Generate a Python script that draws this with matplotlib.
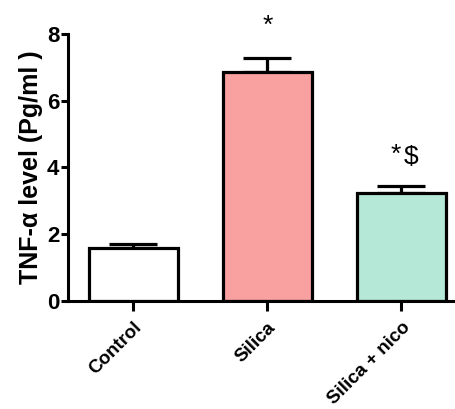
import matplotlib.pyplot as plt
import numpy as np

plt.rcParams['font.family'] = ['Liberation Sans', 'DejaVu Sans']

# data
groups = ['Control', 'Silica', 'Silica + nico']
means = [1.6, 6.87, 3.24]
sem = [0.1, 0.4, 0.22]
colors = ['#ffffff', '#f9a0a0', '#b5e8d6']

fig = plt.figure(figsize=(4.55, 4.09), dpi=100)
ax = fig.add_axes([0.149, 0.264, 0.851, 0.653])

x = np.arange(len(groups))
ax.bar(x, means, width=0.66, color=colors, edgecolor='black', linewidth=2.3, zorder=2)
ax.errorbar(x, means, yerr=[np.zeros(len(sem)), sem], fmt='none', ecolor='black',
            elinewidth=2.3, capsize=17, capthick=2.3, zorder=1)

# significance marks
ax.text(x[1], means[1] + sem[1] + 0.6, '*', ha='center', va='bottom', fontsize=19, clip_on=False)
ax.text(x[2] + 0.0, means[2] + sem[2] + 0.55, '*', ha='right', va='bottom', fontsize=19)
ax.text(x[2] + 0.02, means[2] + sem[2] + 0.5, '$', ha='left', va='bottom', fontsize=19)

ax.set_xlim(-0.49, 2.4)
ax.set_ylim(0, 8)
ax.set_yticks([0, 2, 4, 6, 8])
ax.set_xticks(x)
ax.set_xticklabels(groups, rotation=45, ha='right', rotation_mode='anchor',
                   fontsize=13.5, fontweight='bold')
for t in ax.get_yticklabels():
    t.set_fontsize(16)
    t.set_fontweight('bold')
ax.tick_params(axis='y', width=2.2, length=5, pad=1)
ax.tick_params(axis='x', width=2.2, length=7, pad=6)
ax.spines['top'].set_visible(False)
ax.spines['right'].set_visible(False)
ax.spines['left'].set_linewidth(2.2)
ax.spines['bottom'].set_linewidth(2.2)
ax.set_ylabel('TNF-α level (Pg/ml )', fontsize=18, fontweight='bold', labelpad=3)

plt.savefig('out.png', dpi=100)
